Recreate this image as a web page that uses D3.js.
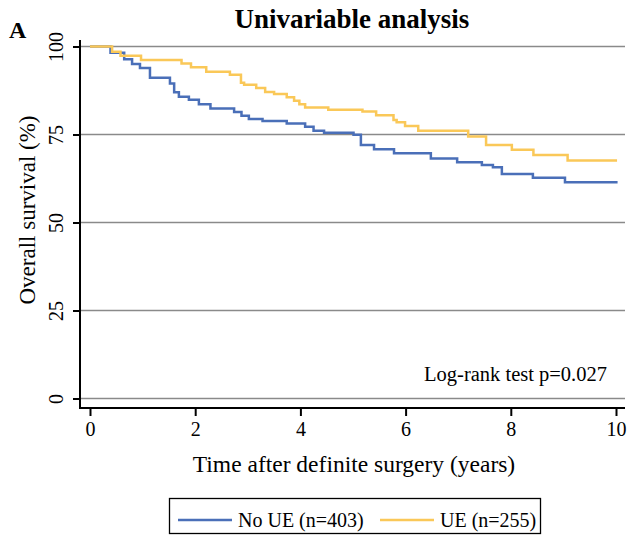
<!DOCTYPE html>
<html><head><meta charset="utf-8">
<script src="https://cdn.jsdelivr.net/npm/d3@7"></script>
<style>body{margin:0;background:#fff}svg{display:block}text{font-family:"Liberation Serif","DejaVu Serif",serif;fill:#000}</style>
</head><body><svg id="c" width="630" height="540"></svg>
<script>
// Data (years, survival %)
const noUE_t = [0,0.39,0.65,0.80,0.95,1.14,1.52,1.60,1.69,1.88,2.07,2.29,2.74,2.88,3.02,3.28,3.74,4.09,4.25,4.45,5.01,5.15,5.40,5.78,6.48,6.98,7.45,7.66,7.83,8.42,9.03,10.03];
const noUE_s = [100,98.2,96.4,95.0,93.9,91.1,89.5,87.0,85.7,84.9,83.6,82.4,81.4,80.3,79.4,78.8,78.1,77.2,76.1,75.5,74.9,72.0,70.8,69.7,68.2,67.1,66.3,65.7,63.8,62.7,61.4,61.4];
const UE_t = [0,0.42,0.58,0.97,1.74,1.92,2.21,2.66,2.87,2.93,3.16,3.33,3.50,3.74,3.88,3.98,4.09,4.53,5.18,5.44,5.77,5.83,5.99,6.24,7.19,7.53,8.02,8.43,9.08,10.02];
const UE_s = [100,98.5,97.4,96.2,95.2,94.1,92.8,92.0,89.7,89.1,88.2,87.1,86.5,85.6,84.6,83.6,82.7,82.0,81.5,80.5,79.1,78.5,77.4,76.1,74.4,72.0,70.7,69.2,67.6,67.6];
const xTicks = [0,2,4,6,8,10];
const yTicks = [0,25,50,75,100];
const seriesNames = ["No UE (n=403)","UE (n=255)"];
const colors = ["#4a6fb8","#fac858"];

const svg = d3.select("#c");
const x = d3.scaleLinear().domain([0,10]).range([90,616]);
const y = d3.scaleLinear().domain([0,100]).range([398.5,46.5]);
const L = 80, R = 625, T = 40, B = 408;

// gridlines
svg.append("g").selectAll("line").data(yTicks).join("line")
  .attr("x1",L).attr("x2",R).attr("y1",d=>y(d)).attr("y2",d=>y(d))
  .attr("stroke","#8a8a8a").attr("stroke-width",1.5);

// curves
const line = d3.line().x(d=>x(d[0])).y(d=>y(d[1])).curve(d3.curveStepAfter);
const series = [d3.zip(noUE_t,noUE_s), d3.zip(UE_t,UE_s)];
series.forEach((s,i)=>{
  svg.append("path").datum(s).attr("d",line).attr("fill","none")
    .attr("stroke",colors[i]).attr("stroke-width",2.5);
});

// axes
const yAxis = d3.axisLeft(y).tickValues(yTicks).tickSize(7).tickPadding(0).tickFormat(d3.format("d"));
const gy = svg.append("g").attr("transform",`translate(${L},0)`).call(yAxis);
gy.select(".domain").remove();
gy.selectAll("line").attr("stroke","#000").attr("stroke-width",2);
gy.selectAll("text").attr("transform","translate(-17,0) rotate(-90)").attr("x",0).attr("dy",0).attr("y",0)
  .attr("text-anchor","middle").style("font-size","20px").style("font-family","Liberation Serif");
svg.append("line").attr("x1",L).attr("x2",L).attr("y1",T).attr("y2",B+1).attr("stroke","#000").attr("stroke-width",2);

const xAxis = d3.axisBottom(x).tickValues(xTicks).tickSize(8).tickPadding(3).tickFormat(d3.format("d"));
const gx = svg.append("g").attr("transform",`translate(0,${B})`).call(xAxis);
gx.select(".domain").remove();
gx.selectAll("line").attr("stroke","#000").attr("stroke-width",2);
gx.selectAll("text").style("font-size","20px").style("font-family","Liberation Serif").attr("dy","0.85em");
svg.append("line").attr("x1",L-1).attr("x2",R).attr("y1",B).attr("y2",B).attr("stroke","#000").attr("stroke-width",2);

// titles
svg.append("text").attr("x",352).attr("y",28).attr("text-anchor","middle")
  .style("font-size","27px").style("font-weight","bold").text("Univariable analysis");
svg.append("text").attr("x",9).attr("y",38).style("font-size","24px").style("font-weight","bold").text("A");
svg.append("text").attr("transform","translate(35,210) rotate(-90)").attr("text-anchor","middle")
  .style("font-size","23px").text("Overall survival (%)");
svg.append("text").attr("x",354).attr("y",472).attr("text-anchor","middle")
  .style("font-size","23.5px").text("Time after definite surgery (years)");
svg.append("text").attr("x",607).attr("y",381).attr("text-anchor","end")
  .style("font-size","20.5px").text("Log-rank test p=0.027");

// legend
svg.append("rect").attr("x",169.5).attr("y",498.5).attr("width",371).attr("height",35)
  .attr("fill","none").attr("stroke","#000").attr("stroke-width",1.3);
const leg = [{x1:178,x2:232,tx:238},{x1:380,x2:434,tx:440}];
leg.forEach((l,i)=>{
  svg.append("line").attr("x1",l.x1).attr("x2",l.x2).attr("y1",520).attr("y2",520)
    .attr("stroke",colors[i]).attr("stroke-width",2.5);
  svg.append("text").attr("x",l.tx).attr("y",527).style("font-size","20px").text(seriesNames[i]);
});
</script></body></html>
